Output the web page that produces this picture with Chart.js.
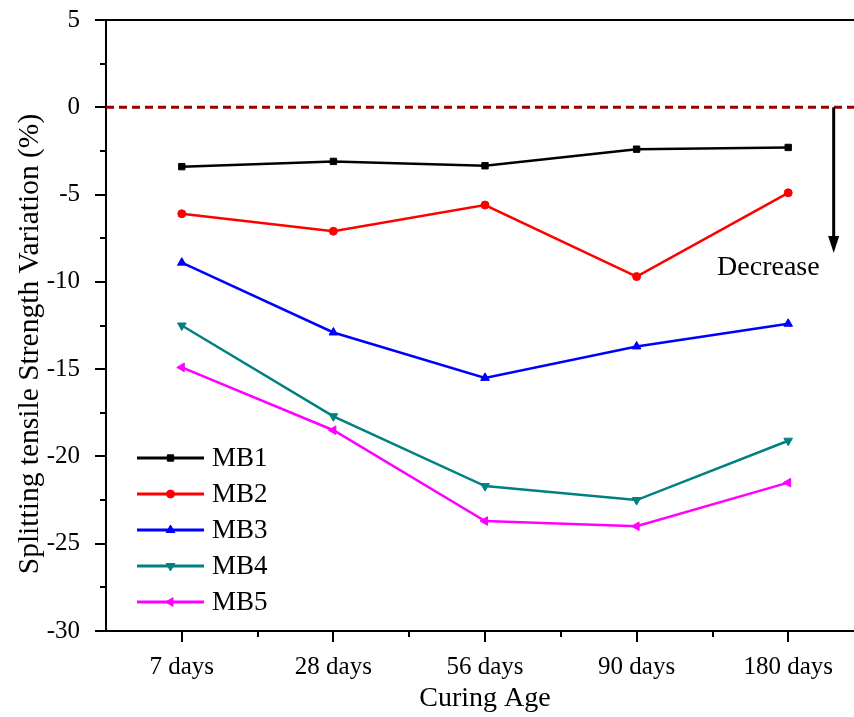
<!DOCTYPE html>
<html>
<head>
<meta charset="utf-8">
<script src="https://cdn.jsdelivr.net/npm/chart.js@4.4.0/dist/chart.umd.min.js"></script>
<style>
  html, body { margin: 0; padding: 0; overflow: hidden; background: #fff; width: 854px; height: 717px; }
  #wrap { width: 870px; height: 730px; margin-top: -13px; }
</style>
</head>
<body>
<div id="wrap"><canvas id="curingChart" width="870" height="730"></canvas></div>
<script>
// data
const categories = ['7 days', '28 days', '56 days', '90 days', '180 days'];
const mb1 = [-3.4, -3.1, -3.35, -2.4, -2.3];
const mb2 = [-6.1, -7.1, -5.6, -9.7, -4.9];
const mb3 = [-8.9, -12.9, -15.5, -13.7, -12.4];
const mb4 = [-12.5, -17.7, -21.7, -22.5, -19.1];
const mb5 = [-14.9, -18.5, -23.7, -24.0, -21.5];
const seriesNames = ['MB1', 'MB2', 'MB3', 'MB4', 'MB5'];
const yMin = -30, yMax = 5, yStep = 5;
const decreaseTo = -8.35;
const yTitle = 'Splitting tensile Strength Variation (%)';

const serif = "'Liberation Serif', 'Times New Roman', serif";

const mkSet = (label, data, color, style, rot, r) => ({
  label: label,
  data: data,
  borderColor: color,
  backgroundColor: color,
  borderWidth: 2.5,
  pointStyle: style,
  rotation: rot,
  pointRadius: r,
  pointHoverRadius: r,
  pointBorderWidth: 1,
  fill: false,
  tension: 0
});

const datasets = [
  mkSet(seriesNames[0], mb1, '#000000', 'rect', 0, 4.5),
  mkSet(seriesNames[1], mb2, '#ff0000', 'circle', 0, 4),
  mkSet(seriesNames[2], mb3, '#0000ff', 'triangle', 0, 5),
  mkSet(seriesNames[3], mb4, '#008080', 'triangle', 180, 5),
  mkSet(seriesNames[4], mb5, '#ff00ff', 'triangle', 270, 5)
];

// frame, tick marks, zero line, arrow, y title and legend
const decorPlugin = {
  id: 'decor',
  beforeDatasetsDraw(chart) {
    const { ctx, chartArea: a, scales: { y } } = chart;
    const y0 = y.getPixelForValue(0);
    ctx.save();
    ctx.strokeStyle = '#990000';
    ctx.lineWidth = 3;
    ctx.setLineDash([8, 5]);
    ctx.beginPath();
    ctx.moveTo(a.left, y0);
    ctx.lineTo(a.right, y0);
    ctx.stroke();
    ctx.restore();
  },
  afterDraw(chart) {
    const { ctx, chartArea: a, scales: { x, y } } = chart;
    ctx.save();
    ctx.strokeStyle = '#000';
    ctx.lineWidth = 2;
    ctx.beginPath();
    ctx.moveTo(a.left, a.top);
    ctx.lineTo(a.right, a.top);
    ctx.lineTo(a.right, a.bottom);
    ctx.stroke();

    // y ticks, major every 5, minor in between
    for (let v = yMin; v <= yMax; v += yStep / 2) {
      const py = Math.round(y.getPixelForValue(v));
      const len = v % yStep === 0 ? 11 : 6;
      ctx.beginPath();
      ctx.moveTo(a.left, py);
      ctx.lineTo(a.left - len, py);
      ctx.stroke();
    }
    // x ticks at categories, minor at boundaries
    const step = x.getPixelForValue(1) - x.getPixelForValue(0);
    categories.forEach((c, i) => {
      const px = Math.round(x.getPixelForValue(i));
      ctx.beginPath();
      ctx.moveTo(px, a.bottom);
      ctx.lineTo(px, a.bottom + 11);
      ctx.stroke();
      const mx = Math.round(px + step / 2);
      ctx.beginPath();
      ctx.moveTo(mx, a.bottom);
      ctx.lineTo(mx, a.bottom + 6);
      ctx.stroke();
    });

    // y axis title
    ctx.save();
    ctx.translate(30, 357);
    ctx.rotate(-Math.PI / 2);
    ctx.fillStyle = '#000';
    ctx.font = '29.5px ' + serif;
    ctx.textAlign = 'center';
    ctx.textBaseline = 'middle';
    ctx.fillText(yTitle, 0, 0);
    ctx.restore();

    // "Decrease" arrow
    const ax = x.getPixelForValue(categories.length - 1) + step * 0.3;
    const ay0 = y.getPixelForValue(0);
    const ay1 = y.getPixelForValue(decreaseTo);
    ctx.lineWidth = 3;
    ctx.beginPath();
    ctx.moveTo(ax, ay0);
    ctx.lineTo(ax, ay1 - 12);
    ctx.stroke();
    ctx.fillStyle = '#000';
    ctx.beginPath();
    ctx.moveTo(ax - 5.5, ay1 - 17);
    ctx.lineTo(ax + 5.5, ay1 - 17);
    ctx.lineTo(ax, ay1);
    ctx.closePath();
    ctx.fill();
    ctx.font = '28px ' + serif;
    ctx.textAlign = 'right';
    ctx.textBaseline = 'alphabetic';
    ctx.fillText('Decrease', ax - 14, ay1 + 22);

    // legend
    const lx = a.left + 31, ly = 471, gap = 36;
    chart.data.datasets.forEach((ds, i) => {
      const cy = ly + i * gap;
      ctx.strokeStyle = ds.borderColor;
      ctx.fillStyle = ds.backgroundColor;
      ctx.lineWidth = 3;
      ctx.beginPath();
      ctx.moveTo(lx, cy);
      ctx.lineTo(lx + 67, cy);
      ctx.stroke();
      ctx.lineWidth = 1;
      Chart.helpers.drawPoint(ctx, {
        pointStyle: ds.pointStyle,
        rotation: ds.rotation,
        radius: ds.pointRadius,
        borderWidth: 1
      }, lx + 33.5, cy);
      ctx.fillStyle = '#000';
      ctx.font = '27px ' + serif;
      ctx.textAlign = 'left';
      ctx.textBaseline = 'middle';
      ctx.fillText(ds.label, lx + 75, cy + 1);
    });
    ctx.restore();
  }
};

const ctx = document.getElementById('curingChart').getContext('2d');
new Chart(ctx, {
  type: 'line',
  data: { labels: categories, datasets: datasets },
  options: {
    responsive: false,
    animation: false,
    layout: { padding: { left: 0, top: 7, right: 4, bottom: 0 } },
    plugins: {
      legend: { display: false },
      tooltip: { enabled: false }
    },
    scales: {
      x: {
        type: 'category',
        offset: true,
        grid: { display: false },
        border: { display: true, color: '#000', width: 2 },
        ticks: { color: '#000', font: { family: serif, size: 25 }, padding: 13, maxRotation: 0 },
        title: {
          display: true,
          text: 'Curing Age',
          color: '#000',
          font: { family: serif, size: 28 },
          padding: { top: 0, bottom: 2 }
        },
        afterFit: (s) => { s.height = 86; }
      },
      y: {
        min: yMin,
        max: yMax,
        grid: { display: false },
        border: { display: true, color: '#000', width: 2 },
        ticks: { stepSize: yStep, color: '#000', font: { family: serif, size: 25 }, padding: 18 },
        title: { display: false },
        afterFit: (s) => { s.width = 106; }
      }
    }
  },
  plugins: [decorPlugin]
});
</script>
</body>
</html>
